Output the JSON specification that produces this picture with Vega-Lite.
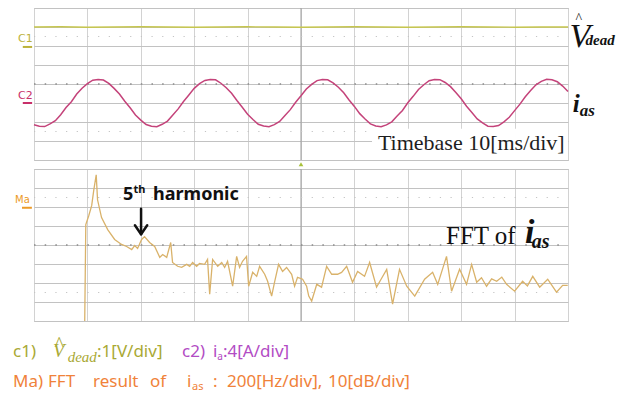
{
  "$schema": "https://vega.github.io/schema/vega-lite/v6.json",
  "autosize": {"type": "none"},
  "padding": {"left": 34, "top": 8, "right": 585, "bottom": 386},
  "background": "white",
  "bounds": "flush",
  "spacing": 9,
  "config": {
    "view": {"stroke": "#b3b3b3", "strokeWidth": 1},
    "axis": {"labels": false, "ticks": false, "domain": false, "grid": true, "gridColor": "#d2d2d2", "gridWidth": 1},
    "axisY": {"gridColor": "#c2c2c2"}
  },
  "datasets": {
    "c1": [
      {"t": 0, "v": 3.0}, {"t": 5, "v": 3.01}, {"t": 10, "v": 2.99}, {"t": 15, "v": 3.0}, {"t": 20, "v": 3.01},
      {"t": 25, "v": 3.0}, {"t": 30, "v": 2.99}, {"t": 35, "v": 3.0}, {"t": 40, "v": 3.01}, {"t": 45, "v": 3.0},
      {"t": 50, "v": 2.99}, {"t": 55, "v": 3.0}, {"t": 60, "v": 3.01}, {"t": 65, "v": 3.0}, {"t": 70, "v": 2.99},
      {"t": 75, "v": 3.0}, {"t": 80, "v": 3.01}, {"t": 85, "v": 3.0}, {"t": 90, "v": 2.99}, {"t": 95, "v": 3.0},
      {"t": 100, "v": 3.0}
    ],
    "c2": [
      {"t": 0, "v": -2.14}, {"t": 1, "v": -2.22}, {"t": 2, "v": -2.24}, {"t": 3, "v": -2.10}, {"t": 4, "v": -1.93},
      {"t": 5, "v": -1.62}, {"t": 6, "v": -1.24}, {"t": 7, "v": -0.93}, {"t": 8, "v": -0.53}, {"t": 9, "v": -0.22},
      {"t": 10, "v": 0.02}, {"t": 11, "v": 0.20}, {"t": 12, "v": 0.24}, {"t": 13, "v": 0.21}, {"t": 14, "v": 0.03},
      {"t": 15, "v": -0.23}, {"t": 16, "v": -0.53}, {"t": 17, "v": -0.91}, {"t": 18, "v": -1.25}, {"t": 19, "v": -1.63},
      {"t": 20, "v": -1.90}, {"t": 21, "v": -2.13}, {"t": 22, "v": -2.22}, {"t": 23, "v": -2.25}, {"t": 24, "v": -2.12},
      {"t": 25, "v": -1.95}, {"t": 26, "v": -1.63}, {"t": 27, "v": -1.31}, {"t": 28, "v": -0.92}, {"t": 29, "v": -0.58},
      {"t": 30, "v": -0.23}, {"t": 31, "v": 0.02}, {"t": 32, "v": 0.19}, {"t": 33, "v": 0.24}, {"t": 34, "v": 0.22},
      {"t": 35, "v": 0.04}, {"t": 36, "v": -0.20}, {"t": 37, "v": -0.49}, {"t": 38, "v": -0.87}, {"t": 39, "v": -1.22},
      {"t": 40, "v": -1.59}, {"t": 41, "v": -1.87}, {"t": 42, "v": -2.12}, {"t": 43, "v": -2.21}, {"t": 44, "v": -2.25},
      {"t": 45, "v": -2.14}, {"t": 46, "v": -1.97}, {"t": 47, "v": -1.66}, {"t": 48, "v": -1.35}, {"t": 49, "v": -0.96},
      {"t": 50, "v": -0.62}, {"t": 51, "v": -0.26}, {"t": 52, "v": -0.02}, {"t": 53, "v": 0.18}, {"t": 54, "v": 0.24},
      {"t": 55, "v": 0.22}, {"t": 56, "v": 0.06}, {"t": 57, "v": -0.17}, {"t": 58, "v": -0.46}, {"t": 59, "v": -0.84},
      {"t": 60, "v": -1.18}, {"t": 61, "v": -1.56}, {"t": 62, "v": -1.84}, {"t": 63, "v": -2.10}, {"t": 64, "v": -2.21},
      {"t": 65, "v": -2.25}, {"t": 66, "v": -2.15}, {"t": 67, "v": -1.99}, {"t": 68, "v": -1.69}, {"t": 69, "v": -1.39},
      {"t": 70, "v": -0.99}, {"t": 71, "v": -0.65}, {"t": 72, "v": -0.29}, {"t": 73, "v": -0.04}, {"t": 74, "v": 0.17},
      {"t": 75, "v": 0.24}, {"t": 76, "v": 0.23}, {"t": 77, "v": 0.08}, {"t": 78, "v": -0.14}, {"t": 79, "v": -0.45},
      {"t": 80, "v": -0.78}, {"t": 81, "v": -1.17}, {"t": 82, "v": -1.50}, {"t": 83, "v": -1.84}, {"t": 84, "v": -2.05},
      {"t": 85, "v": -2.22}, {"t": 86, "v": -2.24}, {"t": 87, "v": -2.19}, {"t": 88, "v": -1.99}, {"t": 89, "v": -1.75},
      {"t": 90, "v": -1.40}, {"t": 91, "v": -1.06}, {"t": 92, "v": -0.67}, {"t": 93, "v": -0.34}, {"t": 94, "v": -0.04},
      {"t": 95, "v": 0.14}, {"t": 96, "v": 0.25}, {"t": 97, "v": 0.22}, {"t": 98, "v": 0.12}, {"t": 99, "v": -0.11},
      {"t": 100, "v": -0.40}
    ],
    "fft": [
      {"hz": 4, "db": -80}, {"hz": 8, "db": -29.3}, {"hz": 19, "db": -24.6}, {"hz": 30, "db": -19.3}, {"hz": 38, "db": -11},
      {"hz": 47, "db": -3.1}, {"hz": 52, "db": -16.2}, {"hz": 67, "db": -25.6}, {"hz": 90, "db": -31.9}, {"hz": 116, "db": -37.1},
      {"hz": 142, "db": -39.7}, {"hz": 161, "db": -40.8}, {"hz": 180, "db": -42.4}, {"hz": 191, "db": -40.3}, {"hz": 202, "db": -41.8},
      {"hz": 217, "db": -37.1}, {"hz": 228, "db": -35.6}, {"hz": 247, "db": -38.7}, {"hz": 266, "db": -40.8}, {"hz": 285, "db": -46.5},
      {"hz": 296, "db": -45}, {"hz": 311, "db": -46.5}, {"hz": 326, "db": -38.7}, {"hz": 333, "db": -49.2}, {"hz": 352, "db": -51.2},
      {"hz": 367, "db": -51.8}, {"hz": 386, "db": -50.2}, {"hz": 397, "db": -51.2}, {"hz": 408, "db": -49.2}, {"hz": 423, "db": -51.2},
      {"hz": 434, "db": -49.7}, {"hz": 453, "db": -50.2}, {"hz": 464, "db": -47.6}, {"hz": 472, "db": -65.9}, {"hz": 483, "db": -47.6},
      {"hz": 502, "db": -51.2}, {"hz": 517, "db": -49.2}, {"hz": 528, "db": -51.8}, {"hz": 539, "db": -48.6}, {"hz": 558, "db": -61.7},
      {"hz": 573, "db": -46}, {"hz": 584, "db": -51.8}, {"hz": 595, "db": -48.6}, {"hz": 610, "db": -46}, {"hz": 618, "db": -61.7},
      {"hz": 633, "db": -54.4}, {"hz": 648, "db": -56.5}, {"hz": 659, "db": -51.2}, {"hz": 678, "db": -55.4}, {"hz": 689, "db": -59.1},
      {"hz": 704, "db": -66.9}, {"hz": 715, "db": -59.6}, {"hz": 730, "db": -50.2}, {"hz": 745, "db": -53.9}, {"hz": 760, "db": -51.8},
      {"hz": 779, "db": -55.4}, {"hz": 790, "db": -61.7}, {"hz": 801, "db": -57}, {"hz": 820, "db": -58}, {"hz": 835, "db": -61.7},
      {"hz": 843, "db": -66.9}, {"hz": 854, "db": -69.5}, {"hz": 873, "db": -60.7}, {"hz": 891, "db": -62.2}, {"hz": 910, "db": -51.2},
      {"hz": 929, "db": -55.4}, {"hz": 951, "db": -55.4}, {"hz": 966, "db": -54.4}, {"hz": 985, "db": -51.2}, {"hz": 1007, "db": -59.6},
      {"hz": 1026, "db": -53.9}, {"hz": 1052, "db": -56.5}, {"hz": 1071, "db": -49.2}, {"hz": 1097, "db": -62.2}, {"hz": 1116, "db": -57.5},
      {"hz": 1135, "db": -52.8}, {"hz": 1157, "db": -71.1}, {"hz": 1183, "db": -52.8}, {"hz": 1210, "db": -61.7}, {"hz": 1240, "db": -66.9},
      {"hz": 1277, "db": -58}, {"hz": 1307, "db": -54.4}, {"hz": 1326, "db": -60.7}, {"hz": 1359, "db": -46}, {"hz": 1378, "db": -64.3},
      {"hz": 1408, "db": -52.8}, {"hz": 1434, "db": -60.7}, {"hz": 1453, "db": -50.2}, {"hz": 1472, "db": -59.6}, {"hz": 1490, "db": -57.2},
      {"hz": 1509, "db": -61.7}, {"hz": 1528, "db": -57.8}, {"hz": 1547, "db": -59.1}, {"hz": 1566, "db": -56.9}, {"hz": 1584, "db": -60.7},
      {"hz": 1614, "db": -64.3}, {"hz": 1644, "db": -59.1}, {"hz": 1662, "db": -61.5}, {"hz": 1682, "db": -56.5}, {"hz": 1708, "db": -62.2},
      {"hz": 1738, "db": -58}, {"hz": 1771, "db": -64.8}, {"hz": 1794, "db": -61.2}, {"hz": 1813, "db": -61.2}
    ]
  },
  "vconcat": [
    {
      "width": 534,
      "height": 152,
      "encoding": {
        "x": {"field": "t", "type": "quantitative", "scale": {"domain": [0, 100], "nice": false, "zero": false},
              "axis": {"values": [0, 10, 20, 30, 40, 50, 60, 70, 80, 90, 100], "title": null}},
        "y": {"field": "v", "type": "quantitative", "scale": {"domain": [-4, 4], "nice": false, "zero": false},
              "axis": {"values": [-4, -3, -2, -1, 0, 1, 2, 3, 4], "title": null}}
      },
      "layer": [
        {
          "data": {"values": [{"t": 50, "v": -4, "v2": 4}]},
          "mark": {"type": "rule", "color": "#9c9c9c", "strokeWidth": 1},
          "encoding": {"y2": {"field": "v2"}}
        },
        {
          "data": {"values": [{"t": 0, "t2": 100, "v": 0}]},
          "mark": {"type": "rule", "color": "#8a8a8a", "strokeWidth": 1.5, "strokeDash": [1.5, 9.18]},
          "encoding": {"x2": {"field": "t2"}}
        },
        {
          "data": {"values": [{"t": 0, "t2": 100, "v": 2.5}, {"t": 0, "t2": 100, "v": -2.5}]},
          "mark": {"type": "rule", "color": "#c4c4c4", "strokeWidth": 1.2, "strokeDash": [1.2, 9.48]},
          "encoding": {"x2": {"field": "t2"}}
        },
        {
          "data": {"values": [{"t": 63.3, "t2": 100, "v": -2.35, "v2": -4}]},
          "mark": {"type": "rect", "fill": "white"},
          "encoding": {"x2": {"field": "t2"}, "y2": {"field": "v2"}}
        },
        {
          "data": {"name": "c1"},
          "mark": {"type": "line", "color": "#c6c64e", "strokeWidth": 1.4}
        },
        {
          "data": {"name": "c2"},
          "mark": {"type": "line", "color": "#c4437a", "strokeWidth": 1.5}
        },
        {
          "data": {"values": [
            {"ch": "C1", "t": -2.1, "t2": -0.35, "v": 1.95},
            {"ch": "C2", "t": -2.1, "t2": -0.35, "v": -1.0}
          ]},
          "mark": {"type": "rule", "strokeWidth": 2},
          "encoding": {
            "x2": {"field": "t2"},
            "color": {"field": "ch", "type": "nominal", "scale": {"domain": ["C1", "C2"], "range": ["#bcb23a", "#c8306a"]}, "legend": null}
          }
        },
        {
          "data": {"values": [
            {"ch": "C1", "t": -3.0, "v": 2.23},
            {"ch": "C2", "t": -3.0, "v": -0.78}
          ]},
          "mark": {"type": "text", "align": "left", "baseline": "alphabetic", "font": "DejaVu Sans", "fontSize": 11},
          "encoding": {
            "text": {"field": "ch"},
            "color": {"field": "ch", "type": "nominal", "legend": null}
          }
        },
        {
          "data": {"values": [{"t": 50, "v": -4.22}]},
          "mark": {"type": "point", "shape": "triangle-up", "filled": true, "size": 22, "color": "#a9c23c", "opacity": 1}
        },
        {
          "data": {"values": [{"t": 64.4, "v": -3.48, "label": "Timebase 10[ms/div]"}]},
          "mark": {"type": "text", "align": "left", "baseline": "alphabetic", "font": "Liberation Serif", "fontSize": 22, "color": "#1e1e1e"},
          "encoding": {"text": {"field": "label"}}
        },
        {
          "data": {"values": [{"t": 100.3, "v": 1.97, "label": "V"}]},
          "mark": {"type": "text", "align": "left", "baseline": "alphabetic", "font": "Liberation Serif", "fontStyle": "italic", "fontSize": 34, "color": "#111111"},
          "encoding": {"text": {"field": "label"}}
        },
        {
          "data": {"values": [{"t": 102.0, "v": 3.22, "label": "^"}]},
          "mark": {"type": "text", "align": "center", "baseline": "alphabetic", "font": "Liberation Serif", "fontSize": 14, "color": "#111111"},
          "encoding": {"text": {"field": "label"}}
        },
        {
          "data": {"values": [{"t": 103.3, "v": 2.06, "label": "dead"}]},
          "mark": {"type": "text", "align": "left", "baseline": "alphabetic", "font": "Liberation Serif", "fontStyle": "italic", "fontWeight": "bold", "fontSize": 15, "color": "#111111"},
          "encoding": {"text": {"field": "label"}}
        },
        {
          "data": {"values": [{"t": 100.9, "v": -1.45, "label": "i"}]},
          "mark": {"type": "text", "align": "left", "baseline": "alphabetic", "font": "Liberation Serif", "fontStyle": "italic", "fontWeight": "bold", "fontSize": 25, "color": "#111111"},
          "encoding": {"text": {"field": "label"}}
        },
        {
          "data": {"values": [{"t": 102.2, "v": -1.66, "label": "as"}]},
          "mark": {"type": "text", "align": "left", "baseline": "alphabetic", "font": "Liberation Serif", "fontStyle": "italic", "fontWeight": "bold", "fontSize": 17, "color": "#111111"},
          "encoding": {"text": {"field": "label"}}
        }
      ]
    },
    {
      "width": 534,
      "height": 152,
      "encoding": {
        "x": {"field": "hz", "type": "quantitative", "scale": {"domain": [-186, 1814], "nice": false, "zero": false},
              "axis": {"values": [-186, 14, 214, 414, 614, 814, 1014, 1214, 1414, 1614, 1814], "title": null}},
        "y": {"field": "db", "type": "quantitative", "scale": {"domain": [-80, 0], "nice": false, "zero": false},
              "axis": {"values": [-80, -70, -60, -50, -40, -30, -20, -10, 0], "title": null}}
      },
      "layer": [
        {
          "data": {"values": [{"hz": 814, "db": -80, "db2": 0}]},
          "mark": {"type": "rule", "color": "#9c9c9c", "strokeWidth": 1},
          "encoding": {"y2": {"field": "db2"}}
        },
        {
          "data": {"values": [{"hz": -186, "hz2": 1814, "db": -40}]},
          "mark": {"type": "rule", "color": "#8a8a8a", "strokeWidth": 1.5, "strokeDash": [1.5, 9.18]},
          "encoding": {"x2": {"field": "hz2"}}
        },
        {
          "data": {"values": [{"hz": -186, "hz2": 1814, "db": -15}, {"hz": -186, "hz2": 1814, "db": -65}]},
          "mark": {"type": "rule", "color": "#c4c4c4", "strokeWidth": 1.2, "strokeDash": [1.2, 9.48]},
          "encoding": {"x2": {"field": "hz2"}}
        },
        {
          "data": {"name": "fft"},
          "mark": {"type": "line", "color": "#d9b26a", "strokeWidth": 1.3}
        },
        {
          "data": {"values": [{"hz": -231, "hz2": -194, "db": -20.4}]},
          "mark": {"type": "rule", "strokeWidth": 2, "color": "#ec9a28"},
          "encoding": {"x2": {"field": "hz2"}}
        },
        {
          "data": {"values": [{"hz": -257, "db": -17.8, "label": "Ma"}]},
          "mark": {"type": "text", "align": "left", "baseline": "alphabetic", "font": "DejaVu Sans", "fontSize": 10, "color": "#ec9a28"},
          "encoding": {"text": {"field": "label"}}
        },
        {
          "data": {"values": [
            {"hz": 215, "hz2": 215, "db": -20.9, "db2": -34.0},
            {"hz": 192, "hz2": 215, "db": -29.6, "db2": -34.3},
            {"hz": 238, "hz2": 215, "db": -29.6, "db2": -34.3}
          ]},
          "mark": {"type": "rule", "strokeWidth": 2.5, "color": "#111111", "strokeCap": "round"},
          "encoding": {"x2": {"field": "hz2"}, "y2": {"field": "db2"}}
        },
        {
          "data": {"values": [
            {"hz": 147, "db": -16.2, "label": "5"},
            {"hz": 260, "db": -16.2, "label": "harmonic"}
          ]},
          "mark": {"type": "text", "align": "left", "baseline": "alphabetic", "font": "Noto Sans", "fontWeight": "bold", "fontSize": 18, "color": "#111111"},
          "encoding": {"text": {"field": "label"}}
        },
        {
          "data": {"values": [{"hz": 187, "db": -12.5, "label": "th"}]},
          "mark": {"type": "text", "align": "left", "baseline": "alphabetic", "font": "Noto Sans", "fontWeight": "bold", "fontSize": 11, "color": "#111111"},
          "encoding": {"text": {"field": "label"}}
        },
        {
          "data": {"values": [{"hz": 1357, "db": -39.7, "label": "FFT of"}]},
          "mark": {"type": "text", "align": "left", "baseline": "alphabetic", "font": "Liberation Serif", "fontSize": 25, "color": "#111111"},
          "encoding": {"text": {"field": "label"}}
        },
        {
          "data": {"values": [{"hz": 1653, "db": -38.7, "label": "i"}]},
          "mark": {"type": "text", "align": "left", "baseline": "alphabetic", "font": "Liberation Serif", "fontStyle": "italic", "fontWeight": "bold", "fontSize": 34, "color": "#111111"},
          "encoding": {"text": {"field": "label"}}
        },
        {
          "data": {"values": [{"hz": 1678, "db": -41.8, "label": "as"}]},
          "mark": {"type": "text", "align": "left", "baseline": "alphabetic", "font": "Liberation Serif", "fontStyle": "italic", "fontWeight": "bold", "fontSize": 20, "color": "#111111"},
          "encoding": {"text": {"field": "label"}}
        }
      ]
    },
    {
      "width": 534,
      "height": 60,
      "view": {"stroke": null},
      "encoding": {
        "x": {"field": "x", "type": "quantitative", "scale": {"domain": [0, 10], "nice": false, "zero": false}, "axis": null},
        "y": {"field": "y", "type": "quantitative", "scale": {"domain": [0, 2], "nice": false, "zero": false, "reverse": true}, "axis": null},
        "text": {"field": "label"}
      },
      "layer": [
        {
          "data": {"values": [
            {"x": -0.393, "y": 0.9, "label": "c1)"},
            {"x": 1.18, "y": 0.9, "label": ":1[V/div]"}
          ]},
          "mark": {"type": "text", "align": "left", "baseline": "alphabetic", "font": "Noto Sans", "fontSize": 17, "color": "#a9a934"}
        },
        {
          "data": {"values": [{"x": 0.356, "y": 0.9, "label": "V"}]},
          "mark": {"type": "text", "align": "left", "baseline": "alphabetic", "font": "Liberation Serif", "fontStyle": "italic", "fontSize": 19, "color": "#a9a934"}
        },
        {
          "data": {"values": [{"x": 0.47, "y": 0.7, "label": "^"}]},
          "mark": {"type": "text", "align": "center", "baseline": "alphabetic", "font": "Liberation Serif", "fontSize": 20, "color": "#a9a934"}
        },
        {
          "data": {"values": [{"x": 0.63, "y": 1.067, "label": "dead"}]},
          "mark": {"type": "text", "align": "left", "baseline": "alphabetic", "font": "Liberation Serif", "fontStyle": "italic", "fontSize": 15, "color": "#a9a934"}
        },
        {
          "data": {"values": [
            {"x": 2.772, "y": 0.9, "label": "c2)"},
            {"x": 3.352, "y": 0.9, "label": "i"},
            {"x": 3.539, "y": 0.9, "label": ":4[A/div]"}
          ]},
          "mark": {"type": "text", "align": "left", "baseline": "alphabetic", "font": "Noto Sans", "fontSize": 17, "color": "#b24cc4"}
        },
        {
          "data": {"values": [{"x": 3.43, "y": 1.0, "label": "a"}]},
          "mark": {"type": "text", "align": "left", "baseline": "alphabetic", "font": "Noto Sans", "fontSize": 10, "color": "#b24cc4"}
        },
        {
          "data": {"values": [
            {"x": -0.393, "y": 1.9, "label": "Ma)"},
            {"x": 0.262, "y": 1.9, "label": "FFT"},
            {"x": 1.105, "y": 1.9, "label": "result"},
            {"x": 2.172, "y": 1.9, "label": "of"},
            {"x": 2.865, "y": 1.9, "label": "i"},
            {"x": 3.352, "y": 1.9, "label": ":"},
            {"x": 3.614, "y": 1.9, "label": "200[Hz/div],"},
            {"x": 5.506, "y": 1.9, "label": "10[dB/div]"}
          ]},
          "mark": {"type": "text", "align": "left", "baseline": "alphabetic", "font": "Noto Sans", "fontSize": 17, "color": "#f0823a"}
        },
        {
          "data": {"values": [{"x": 2.959, "y": 2.0, "label": "as"}]},
          "mark": {"type": "text", "align": "left", "baseline": "alphabetic", "font": "Noto Sans", "fontSize": 11, "color": "#f0823a"}
        }
      ]
    }
  ]
}
